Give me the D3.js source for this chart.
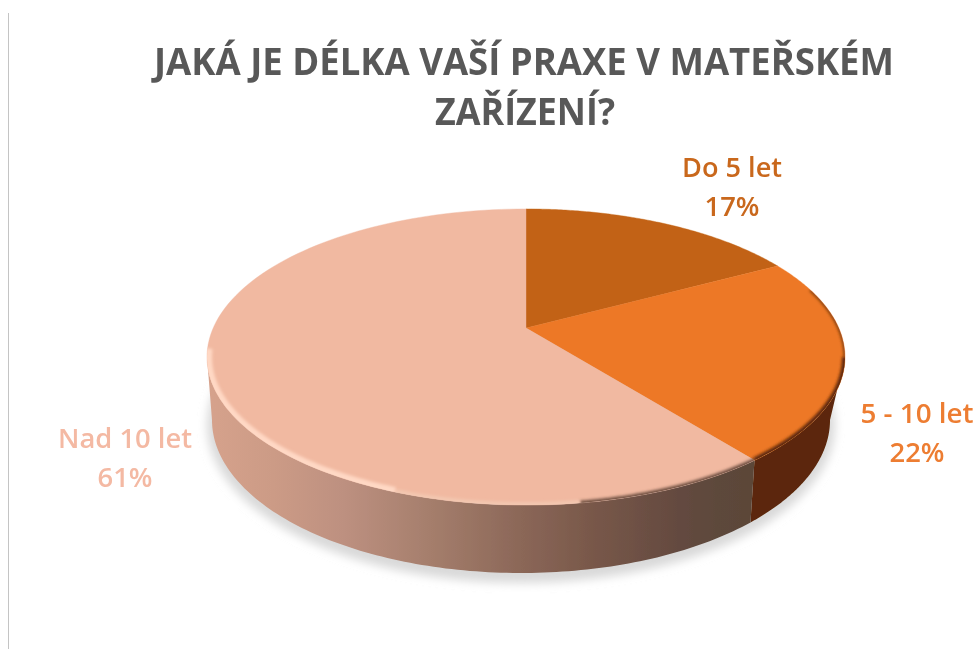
<!DOCTYPE html>
<html><head><meta charset="utf-8">
<script src="https://cdn.jsdelivr.net/npm/d3@7"></script>
<style>html,body{margin:0;padding:0;background:#fff}svg{display:block}</style>
</head><body><svg id="c" width="976" height="649"></svg>
<script>
const titleLines = ["JAKÁ JE DÉLKA VAŠÍ PRAXE V MATEŘSKÉM", "ZAŘÍZENÍ?"];
const categories = ["Do 5 let", "5 - 10 let", "Nad 10 let"];
const values = [17.1, 22.3, 60.6];
const topColors = ["#c26215", "#ed7826", "#f1b9a1"];
const labelColors = ["#c9671c", "#ed7d31", "#f4b9a3"];

const svg = d3.select("#c");
const defs = svg.append("defs");
const W = 976, H = 649;
// top face: perspective circle
const cx = 526, cy = 328, A = 312.8, B = 142.4, k = 0.196;
// bottom rim: plain ellipse
const bcx = 521, bcy = 420, brx = 309, bry = 153;

function proj(theta) {
  const a = Math.sin(theta), b = -Math.cos(theta), w = 1 - k * b;
  return [cx + A * a / w, cy + B * b / w];
}
const botPt = (phi, grow = 0, dy = 0) => [bcx + (brx + grow) * Math.sin(phi), bcy + dy - (bry + grow) * Math.cos(phi)];
const line = d3.line();
const steps = (a0, a1, f) => d3.range(0, 121).map(i => f(a0 + (a1 - a0) * i / 120));
const arcPts = (a0, a1) => steps(a0, a1, proj);

const arcs = d3.pie().sort(null).value(d => d)(values);
const corner = arcs[1].endAngle;
const thetaR = Math.acos(-k), thetaL = 2 * Math.PI - thetaR;
const phiCorner = Math.PI - Math.asin((proj(corner)[0] - 4 - bcx) / brx);
const rad = d3.scaleLinear().domain([0, 360]).range([0, 2 * Math.PI]);

const addBlur = (id, sd, m) => defs.append("filter").attr("id", id)
  .attr("x", -m).attr("y", -m).attr("width", 1 + 2 * m).attr("height", 1 + 2 * m)
  .append("feGaussianBlur").attr("stdDeviation", sd);
addBlur("sh", 5, 0.2); addBlur("b2", 1.8, 0.3); addBlur("soft", 0.45, 0.05); addBlur("txt", 0.35, 0.05);

const sideGrad = defs.append("linearGradient").attr("id", "side").attr("gradientUnits", "userSpaceOnUse")
  .attr("x1", 207).attr("x2", 755).attr("y1", 0).attr("y2", 0);
[[0, "#d6a28c"], [0.12, "#cc9b86"], [0.25, "#bd9080"], [0.4, "#a67f6d"], [0.58, "#8a6657"], [0.72, "#765648"], [0.86, "#644a40"], [0.93, "#5d483b"], [1, "#5c4638"]]
  .forEach(([o, c]) => sideGrad.append("stop").attr("offset", o).attr("stop-color", c));

svg.append("rect").attr("width", W).attr("height", H).attr("fill", "#fff");
svg.append("line").attr("x1", 8.5).attr("x2", 8.5).attr("y1", 13).attr("y2", H).attr("stroke", "#c4c4c4");

const root = svg.append("g").attr("filter", "url(#soft)");

// shadow
root.append("path")
  .attr("d", line(steps(0, 2 * Math.PI, p => botPt(p, 5, 5))) + "Z")
  .attr("fill", "#d9d9d9").attr("filter", "url(#sh)");

// side walls
root.append("path")
  .attr("d", line(arcPts(thetaR, corner).concat(steps(phiCorner, Math.PI / 2, botPt))) + "Z")
  .attr("fill", "#5c2808");
root.append("path")
  .attr("d", line(arcPts(corner, thetaL).concat(steps(3 * Math.PI / 2, phiCorner, botPt))) + "Z")
  .attr("fill", "url(#side)");

// top face
defs.append("clipPath").attr("id", "topClip").append("path").attr("d", line(arcPts(0, 2 * Math.PI)) + "Z");
const face = root.append("g");
arcs.forEach(d => {
  face.append("path").attr("d", line([[cx, cy]].concat(arcPts(d.startAngle, d.endAngle))) + "Z")
    .attr("fill", topColors[d.index]).attr("stroke", topColors[d.index]).attr("stroke-width", 0.4);
});

// bevel along the front edge only
const bevel = [
  [corner, rad(172), "#6a4c3e", 4.5],
  [rad(172), rad(200), "#f3c7b0", 6],
  [rad(200), rad(262), "#ffd8c4", 10],
  [arcs[1].startAngle + rad(12), thetaR, "#6a3210", 2.5],
  [thetaR, corner, "#5c2808", 6]
];
const rim = root.append("g").attr("clip-path", "url(#topClip)");
bevel.forEach(([a0, a1, c, w]) => rim.append("path").attr("d", line(arcPts(a0, a1)))
  .attr("fill", "none").attr("stroke", c).attr("stroke-width", w).attr("filter", "url(#b2)"));

// text
const txt = svg.append("g").attr("filter", "url(#txt)");
const title = txt.append("g").attr("font-family", "'Open Sans', sans-serif")
  .attr("font-weight", 700).attr("fill", "#595959").attr("font-size", 37.5).attr("text-anchor", "middle");
title.selectAll("text").data(titleLines).join("text")
  .attr("x", (d, i) => i ? 525 : 524).attr("y", (d, i) => i ? 125 : 75)
  .attr("textLength", (d, i) => i ? 180 : 740).attr("lengthAdjust", "spacingAndGlyphs").text(d => d);

const labelPos = [[732, 177], [917, 423], [125, 448]];
const labelWidth = [100, 113, 134];
const pct = d3.format(".0f");
const lab = txt.append("g").attr("font-family", "'Open Sans', sans-serif")
  .attr("font-weight", 600).attr("font-size", 27).attr("text-anchor", "middle");
arcs.forEach(d => {
  const [x, y] = labelPos[d.index];
  const g = lab.append("g").attr("fill", labelColors[d.index]);
  g.append("text").attr("x", x).attr("y", y).attr("textLength", labelWidth[d.index])
    .attr("lengthAdjust", "spacingAndGlyphs").text(categories[d.index]);
  g.append("text").attr("x", x).attr("y", y + 39).attr("textLength", 55)
    .attr("lengthAdjust", "spacingAndGlyphs").text(pct(values[d.index]) + "%");
});
</script></body></html>
